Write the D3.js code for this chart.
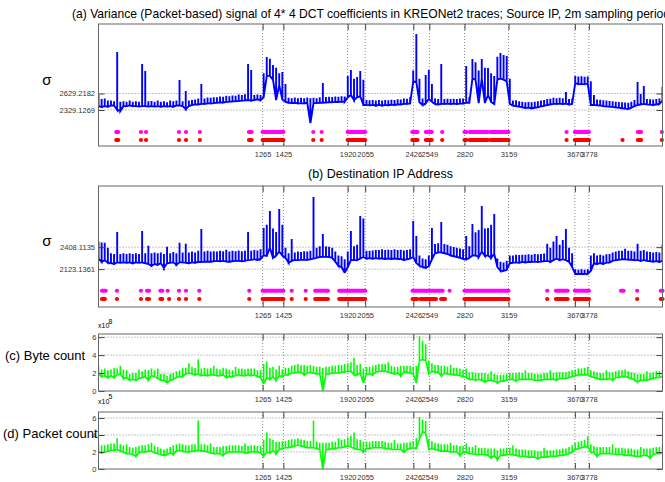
<!DOCTYPE html>
<html>
<head>
<meta charset="utf-8">
<script src="https://cdn.jsdelivr.net/npm/d3@7"></script>
<style>
  body { margin: 0; background: #fff; }
  svg { display: block; }
  text { font-family: "Liberation Sans", Arial, sans-serif; }
</style>
</head>
<body>
<svg id="chart" width="665" height="482"></svg>
<script>
// Each plotted bin covers 24 samples (2-minute sampling), sample index 1..4345.
// For every bin the lowest and highest value inside it are kept.
const sampleStep = 24;
const firstSample = 1;
const lastSample = 4345;

// Change-point indices marked on every panel
const eventTicks = [1265, 1425, 1920, 2055, 2426, 2549, 2820, 3159, 3670, 3778];

// (a) variance signal, source IP: per-bin max and min
const srcHigh = [
  2602, 2530, 2540, 2500, 2500, 2490, 3385, 2480, 2490, 2480,
  2500, 2480, 2490, 2480, 3166, 3039, 2490, 2495, 2480, 2500,
  2480, 2490, 2470, 2500, 2490, 2500, 2875, 2490, 2675, 2500,
  2510, 2520, 2540, 2802, 2540, 2555, 2550, 2560, 2560, 2575,
  2570, 2590, 2580, 2595, 2590, 2610, 2600, 2615, 3166, 3057,
  2600, 2610, 2600, 3000, 3294, 3260, 3150, 3100, 3000, 3020,
  2800, 2550, 2545, 2555, 2545, 2550, 2545, 2555, 2545, 2550,
  2545, 2560, 2820, 2565, 2570, 2565, 2575, 2570, 2580, 2575,
  2950, 3057, 2900, 2930, 3039, 2880, 2510, 2505, 2510, 2500,
  2510, 2500, 2510, 2505, 2515, 2510, 2525, 2520, 2540, 2535,
  2560, 3050, 3712, 2900, 2540, 2966, 3057, 2800, 2540, 2530,
  3166, 2530, 2535, 2530, 2535, 2530, 2540, 2540, 3130, 2560,
  3257, 3200, 3050, 3257, 3100, 3093, 3000, 2950, 3300, 3366,
  3330, 3312, 2900, 2500, 2505, 2490, 2480, 2470, 2475, 2470,
  2480, 2490, 2500, 2510, 2530, 2535, 2550, 2545, 2550, 2545,
  2657, 2530, 2540, 2950, 2940, 2945, 2935, 2940, 2850, 2602,
  2520, 2515, 2505, 2500, 2495, 2490, 2480, 2475, 2470, 2465,
  2460, 2480, 2510, 2839, 2620, 2766, 2530, 2525, 2520, 2530,
  2540, 2748
];
const srcLow = [
  2400, 2384, 2400, 2390, 2410, 2410, 2330, 2311, 2400, 2400,
  2410, 2400, 2400, 2395, 2400, 2400, 2395, 2400, 2395, 2400,
  2390, 2400, 2395, 2400, 2390, 2410, 2410, 2400, 2347, 2400,
  2420, 2430, 2430, 2440, 2440, 2450, 2450, 2455, 2460, 2465,
  2465, 2475, 2480, 2485, 2490, 2495, 2500, 2505, 2510, 2500,
  2510, 2520, 2510, 2560, 2950, 2950, 2880, 2511, 2780, 2520,
  2480, 2460, 2455, 2460, 2450, 2455, 2450, 2460, 2092, 2455,
  2455, 2460, 2460, 2465, 2470, 2470, 2475, 2475, 2480, 2480,
  2560, 2600, 2511, 2560, 2580, 2420, 2420, 2415, 2420, 2410,
  2420, 2410, 2420, 2415, 2425, 2420, 2430, 2430, 2440, 2440,
  2450, 2850, 2840, 2470, 2420, 2450, 2530, 2480, 2440, 2430,
  2440, 2440, 2445, 2440, 2445, 2440, 2445, 2445, 2460, 2460,
  2900, 2880, 2456, 2900, 2456, 2600, 2475, 2438, 2880, 2900,
  2880, 2850, 2440, 2410, 2400, 2390, 2380, 2365, 2370, 2360,
  2370, 2380, 2395, 2405, 2420, 2430, 2440, 2440, 2445, 2440,
  2445, 2430, 2440, 2820, 2800, 2805, 2800, 2810, 2420, 2420,
  2415, 2410, 2400, 2395, 2390, 2385, 2375, 2370, 2360, 2355,
  2350, 2370, 2400, 2420, 2430, 2440, 2430, 2425, 2420, 2430,
  2440, 2500
];
const srcThresholds = [2329.1269, 2629.2182];

// (b) variance signal, destination IP: per-bin max and min
const dstHigh = [
  2480, 2470, 2464, 2400, 2330, 2320, 2606, 2320, 2330, 2320,
  2330, 2320, 2330, 2320, 2619, 2330, 2425, 2330, 2340, 2330,
  2340, 2320, 2412, 2330, 2345, 2330, 2464, 2340, 2451, 2340,
  2350, 2340, 2360, 2645, 2350, 2360, 2350, 2355, 2350, 2360,
  2355, 2373, 2350, 2360, 2355, 2365, 2355, 2360, 2606, 2360,
  2370, 2365, 2380, 2658, 2700, 2878, 2650, 2606, 2904, 2700,
  2400, 2330, 2515, 2340, 2350, 2345, 2355, 2350, 2360, 3059,
  2400, 2420, 2580, 2415, 2412, 2400, 2350, 2300, 2290, 2250,
  2350, 2619, 2420, 2440, 2813, 2780, 2360, 2360, 2365, 2370,
  2370, 2380, 2370, 2375, 2370, 2380, 2370, 2375, 2365, 2370,
  2380, 2748, 2554, 2300, 2260, 2250, 2300, 2658, 2450, 2460,
  2735, 2450, 2440, 2420, 2410, 2400, 2390, 2380, 2554, 2420,
  2710, 2600, 2632, 2943, 2650, 2658, 2700, 2839, 2260, 2220,
  2210, 2230, 2300, 2300, 2310, 2305, 2310, 2310, 2315, 2310,
  2320, 2315, 2320, 2325, 2451, 2400, 2480, 2554, 2440, 2500,
  2645, 2400, 2330, 2120, 2115, 2120, 2115, 2120, 2300, 2330,
  2300, 2310, 2300, 2315, 2320, 2340, 2350, 2360, 2360, 2386,
  2360, 2360, 2350, 2451, 2360, 2370, 2350, 2345, 2340, 2345,
  2340, 2440
];
const dstLow = [
  2260, 2218, 2240, 2205, 2200, 2192, 2210, 2205, 2210, 2205,
  2210, 2200, 2210, 2205, 2210, 2200, 2190, 2166, 2190, 2179,
  2200, 2140, 2200, 2205, 2210, 2179, 2210, 2210, 2205, 2200,
  2210, 2205, 2215, 2215, 2218, 2220, 2218, 2225, 2230, 2225,
  2230, 2220, 2218, 2225, 2230, 2230, 2225, 2230, 2240, 2243,
  2250, 2243, 2255, 2300, 2295, 2400, 2269, 2300, 2350, 2300,
  2270, 2205, 2230, 2243, 2240, 2243, 2245, 2243, 2250, 2260,
  2269, 2280, 2282, 2282, 2280, 2269, 2220, 2166, 2150, 2075,
  2150, 2240, 2243, 2240, 2260, 2280, 2260, 2265, 2260, 2265,
  2260, 2260, 2256, 2260, 2256, 2260, 2256, 2255, 2243, 2250,
  2260, 2280, 2200, 2166, 2150, 2140, 2160, 2250, 2330, 2340,
  2340, 2330, 2320, 2300, 2290, 2280, 2270, 2256, 2250, 2269,
  2300, 2300, 2280, 2350, 2295, 2300, 2269, 2320, 2150, 2101,
  2100, 2114, 2200, 2205, 2210, 2205, 2215, 2210, 2215, 2215,
  2220, 2215, 2220, 2225, 2230, 2218, 2240, 2260, 2240, 2250,
  2240, 2218, 2150, 2060, 2060, 2062, 2060, 2062, 2100, 2200,
  2192, 2200, 2192, 2205, 2210, 2230, 2240, 2245, 2250, 2250,
  2245, 2245, 2240, 2240, 2230, 2240, 2230, 2225, 2220, 2225,
  2218, 2230
];
const dstThresholds = [2123.1361, 2408.1135];

// (c) byte count per bin, in units of 10^8
const byteHigh = [
  2.8, 2.4, 2.5, 2.3, 2.4, 2.6, 2.5, 2.8, 2.4, 2.3,
  1.9, 2.0, 2.0, 2.4, 2.2, 2.4, 2.3, 2.5, 2.3, 2.5,
  1.9, 1.9, 1.7, 1.9, 2.0, 2.2, 2.3, 2.6, 2.6, 3.1,
  2.7, 2.6, 3.5, 2.5, 2.6, 2.5, 2.6, 2.8, 2.5, 2.4,
  2.6, 2.5, 2.4, 2.3, 2.7, 2.5, 2.5, 2.4, 2.5, 2.5,
  2.5, 2.3, 2.3, 3.0, 3.3, 2.6, 2.7, 2.4, 2.8, 2.4,
  2.6, 2.6, 2.8, 2.9, 3.0, 2.9, 2.9, 2.8, 2.9, 2.8,
  2.7, 2.7, 2.6, 2.7, 2.7, 2.8, 2.8, 2.9, 2.9, 3.0,
  3.1, 3.2, 3.7, 2.9, 3.0, 2.5, 2.7, 2.7, 2.8, 2.9,
  3.0, 3.0, 3.0, 3.2, 2.8, 2.7, 2.7, 2.8, 2.8, 2.8,
  2.8, 2.7, 2.8, 6.1, 5.6, 5.2, 3.4, 3.1, 2.9, 2.9,
  2.8, 2.8, 2.7, 2.9, 2.6, 2.6, 2.5, 2.4, 2.5, 2.1,
  2.1, 2.0, 2.0, 2.0, 2.0, 1.9, 2.2, 1.9, 1.8, 1.8,
  1.8, 1.9, 2.0, 2.0, 2.0, 2.1, 2.0, 2.3, 2.0, 2.0,
  1.9, 1.9, 1.9, 2.0, 2.0, 2.3, 2.0, 2.1, 2.1, 2.1,
  2.1, 2.2, 2.3, 2.4, 2.5, 2.5, 2.6, 2.7, 2.3, 2.2,
  2.1, 2.0, 2.0, 2.3, 2.1, 2.1, 2.2, 2.3, 2.3, 2.4,
  2.2, 2.1, 2.0, 1.9, 1.9, 1.9, 2.2, 2.0, 2.1, 2.2,
  2.2, 2.3
];
const byteLow = [
  1.9, 1.6, 1.7, 1.5, 1.7, 1.5, 1.8, 1.9, 1.4, 1.5,
  1.2, 1.3, 1.2, 1.4, 1.5, 1.6, 1.2, 1.7, 1.6, 1.4,
  1.2, 1.2, 0.9, 1.2, 1.3, 1.5, 1.6, 1.6, 1.9, 2.0,
  1.9, 1.8, 1.9, 1.7, 1.8, 1.7, 1.8, 1.8, 1.7, 1.7,
  1.8, 1.5, 1.6, 1.6, 1.7, 1.8, 1.7, 1.7, 1.8, 1.7,
  1.8, 1.6, 1.5, 0.8, 1.5, 1.3, 1.6, 1.2, 1.7, 1.6,
  1.8, 1.8, 2.0, 2.0, 2.1, 2.1, 1.8, 2.0, 2.1, 2.0,
  1.9, 1.9, 0.0, 1.9, 1.9, 2.0, 2.0, 2.0, 2.1, 2.1,
  2.2, 2.2, 1.8, 1.8, 2.0, 0.9, 1.9, 1.9, 1.8, 2.1,
  2.2, 2.2, 2.2, 2.1, 2.0, 1.9, 2.0, 1.7, 2.1, 2.1,
  2.0, 1.9, 0.9, 3.4, 3.5, 3.4, 1.9, 2.2, 2.1, 2.1,
  1.7, 2.0, 1.9, 1.9, 1.8, 1.8, 1.7, 1.6, 1.5, 1.3,
  1.3, 1.2, 1.3, 1.2, 1.0, 1.2, 1.2, 1.1, 0.9, 1.1,
  1.1, 1.2, 1.3, 1.3, 1.1, 1.3, 1.3, 1.3, 1.3, 1.3,
  1.2, 1.2, 1.2, 1.3, 1.3, 1.3, 1.3, 1.2, 1.4, 1.4,
  1.4, 1.5, 1.6, 1.7, 1.8, 1.8, 1.8, 1.8, 1.6, 1.5,
  1.4, 1.3, 1.3, 1.3, 1.4, 1.2, 1.5, 1.5, 1.6, 1.6,
  1.5, 1.4, 1.2, 1.0, 1.2, 1.2, 1.2, 1.3, 1.4, 1.5,
  1.5, 1.6
];
const byteExponent = "8";

// (d) packet count per bin, in units of 10^5
const packetHigh = [
  2.9, 2.8, 2.8, 2.9, 3.0, 3.0, 3.6, 2.9, 2.8, 2.9,
  2.6, 2.5, 2.6, 2.7, 2.8, 2.8, 2.9, 3.1, 2.7, 2.6,
  2.4, 2.3, 2.4, 2.6, 2.8, 2.9, 3.0, 2.9, 2.8, 2.8,
  2.9, 2.9, 5.7, 2.9, 2.9, 2.8, 3.0, 2.6, 2.6, 2.6,
  2.7, 2.7, 2.8, 2.8, 2.8, 2.8, 2.7, 3.0, 2.7, 2.8,
  2.8, 2.7, 2.7, 3.4, 4.3, 3.6, 3.4, 3.2, 3.2, 3.3,
  3.3, 3.4, 3.5, 3.5, 3.6, 3.5, 3.4, 3.3, 3.3, 5.7,
  3.2, 3.1, 3.1, 3.1, 3.1, 3.2, 3.2, 3.6, 3.4, 3.5,
  3.7, 3.9, 4.3, 3.5, 3.4, 3.2, 3.2, 3.2, 3.3, 3.3,
  3.3, 3.3, 3.2, 3.1, 3.1, 3.4, 3.0, 3.0, 3.1, 3.1,
  3.2, 3.3, 3.6, 6.1, 5.8, 5.6, 3.5, 3.3, 3.1, 3.0,
  2.9, 2.9, 2.9, 3.1, 2.8, 2.8, 2.7, 2.7, 3.0, 2.6,
  2.6, 2.8, 2.5, 2.5, 2.5, 2.4, 2.4, 2.4, 2.2, 2.4,
  2.4, 2.5, 2.5, 2.8, 2.4, 2.3, 2.3, 2.3, 2.2, 2.2,
  2.2, 2.1, 2.1, 2.5, 2.2, 2.2, 2.2, 2.3, 2.3, 2.4,
  2.4, 2.6, 2.8, 3.1, 3.2, 3.3, 3.4, 3.85, 2.9, 2.7,
  2.6, 2.6, 2.6, 2.6, 2.6, 2.9, 2.5, 2.5, 2.5, 2.4,
  2.4, 2.4, 2.3, 2.3, 2.6, 2.4, 2.4, 2.4, 2.5, 2.6,
  2.6, 2.7
];
const packetLow = [
  2.0, 1.9, 2.0, 2.1, 2.2, 2.2, 2.3, 2.1, 2.0, 1.8,
  1.8, 1.7, 1.5, 1.9, 2.0, 2.0, 2.1, 2.1, 1.9, 1.8,
  1.7, 1.6, 1.7, 1.9, 1.7, 2.1, 2.2, 2.1, 2.0, 2.0,
  2.1, 2.1, 2.2, 2.1, 2.1, 2.0, 1.9, 1.8, 1.8, 1.8,
  1.6, 1.9, 2.0, 2.0, 2.0, 2.0, 2.0, 1.9, 1.9, 2.0,
  2.0, 2.0, 1.9, 1.5, 2.0, 1.9, 2.2, 1.8, 2.3, 2.4,
  2.5, 2.5, 2.6, 2.7, 2.8, 2.7, 2.6, 2.5, 2.5, 2.5,
  2.4, 2.3, 0.0, 2.3, 2.3, 2.4, 2.4, 2.5, 2.5, 2.6,
  2.7, 2.6, 2.4, 2.3, 2.3, 2.0, 2.4, 2.4, 2.5, 2.5,
  2.5, 2.5, 2.4, 2.4, 2.3, 2.3, 2.3, 2.3, 2.0, 2.3,
  2.4, 2.5, 2.4, 3.5, 4.4, 4.2, 2.3, 2.4, 2.3, 2.2,
  2.1, 2.1, 2.1, 2.0, 2.0, 2.0, 1.6, 1.9, 2.0, 1.8,
  1.8, 1.7, 1.7, 1.7, 1.7, 1.6, 1.3, 1.6, 1.1, 1.6,
  1.6, 1.7, 1.7, 1.7, 1.6, 1.5, 1.5, 1.5, 1.4, 1.4,
  1.4, 1.2, 1.4, 1.4, 1.4, 1.5, 1.5, 1.5, 1.6, 1.6,
  1.7, 1.8, 2.0, 2.3, 2.4, 2.5, 2.6, 2.6, 2.0, 1.9,
  1.5, 1.8, 1.8, 1.8, 1.8, 1.8, 1.7, 1.7, 1.7, 1.6,
  1.6, 1.6, 1.5, 1.5, 1.5, 1.6, 1.6, 1.3, 1.7, 1.8,
  1.8, 1.9
];
const packetExponent = "5";
const countTicks = [0, 2, 4, 6];

// Flagged sample ranges [start, end] (single samples have start == end)
const srcFlagsMagenta = [[138,153],[328,328],[367,367],[621,621],[675,675],[782,782],[1160,1180],[1265,1425],[1655,1655],[1720,1720],[1920,2055],[2418,2458],[2522,2568],[2648,2648],[2820,2835],[2860,3000],[3020,3159],[3606,3606],[3670,3778],[4155,4180],[4340,4340]];
const srcFlagsRed = [[138,153],[328,328],[367,367],[621,621],[675,675],[782,782],[1160,1180],[1265,1425],[1655,1655],[1720,1720],[1920,2055],[2418,2458],[2522,2568],[2648,2648],[2820,2835],[2860,3000],[3020,3159],[3606,3606],[3670,3778],[4037,4037],[4155,4180],[4340,4340]];
const dstFlagsMagenta = [[28,57],[143,143],[328,328],[375,390],[478,492],[534,534],[621,621],[675,675],[777,777],[1162,1162],[1265,1425],[1489,1489],[1597,1597],[1670,1768],[1855,2055],[2420,2651],[2705,2705],[2820,3159],[3457,3457],[3524,3614],[3670,3778],[4025,4045],[4150,4150],[4332,4345]];
const dstFlagsRed = [[28,50],[143,143],[328,328],[375,390],[478,492],[545,545],[621,621],[675,675],[777,777],[1162,1162],[1265,1425],[1489,1489],[1597,1597],[1670,1768],[1855,2055],[2420,2455],[2480,2600],[2640,2670],[2820,3159],[3457,3457],[3524,3614],[3670,3778],[4150,4150],[4332,4345]];

const svg = d3.select("#chart");
const FONT = '"Liberation Sans", Arial, sans-serif';

const x = d3.scaleLinear().domain([firstSample, lastSample]).range([98.5, 662.5]);
const binStart = i => firstSample + i * sampleStep;

const panels = [
  { id: "a", top: 24, bottom: 146, domain: [1674, 3894], hi: srcHigh, lo: srcLow,
    yTicks: srcThresholds, fmt: d3.format(".4f"), color: "#0000ff", lw: 1.9,
    flags: [{ rows: srcFlagsMagenta, level: 1929, color: "#ff00ff" },
            { rows: srcFlagsRed, level: 1783, color: "#ff0000" }],
    labelPad: 3.5 },
  { id: "b", top: 186, bottom: 307, domain: [1631, 3202], hi: dstHigh, lo: dstLow,
    yTicks: dstThresholds, fmt: d3.format(".4f"), color: "#0000ff", lw: 1.9,
    flags: [{ rows: dstFlagsMagenta, level: 1842, color: "#ff00ff" },
            { rows: dstFlagsRed, level: 1735, color: "#ff0000" }],
    labelPad: 3.5 },
  { id: "c", top: 334, bottom: 391, domain: [0, 6.35], hi: byteHigh, lo: byteLow,
    yTicks: countTicks, fmt: d3.format("d"), color: "#00ff00", lw: 1.6,
    flags: [], labelPad: 2 },
  { id: "d", top: 412, bottom: 469, domain: [0, 6.7], hi: packetHigh, lo: packetLow,
    yTicks: countTicks, fmt: d3.format("d"), color: "#00ff00", lw: 1.6,
    flags: [], labelPad: 2 }
];

const tickLen = 6;

panels.forEach(p => {
  const y = d3.scaleLinear().domain(p.domain).range([p.bottom, p.top]);
  const g = svg.append("g");

  g.append("clipPath").attr("id", "clip-" + p.id)
    .append("rect").attr("x", x.range()[0]).attr("y", p.top)
    .attr("width", x.range()[1] - x.range()[0]).attr("height", p.bottom - p.top);

  // dotted grid
  g.append("g").selectAll("line").data(eventTicks).join("line")
    .attr("x1", d => x(d)).attr("x2", d => x(d))
    .attr("y1", p.top).attr("y2", p.bottom)
    .attr("stroke", "#8c8c8c").attr("stroke-width", 1)
    .attr("stroke-dasharray", "1,2");
  g.append("g").selectAll("line").data(p.yTicks.filter(v => v > p.domain[0])).join("line")
    .attr("x1", x.range()[0]).attr("x2", x.range()[1])
    .attr("y1", d => y(d)).attr("y2", d => y(d))
    .attr("stroke", "#8c8c8c").attr("stroke-width", 1)
    .attr("stroke-dasharray", "1,2");

  // signal: every bin is a vertical stroke from its min up to its max and back,
  // consecutive bins joined along their minima
  const pts = [];
  p.lo.forEach((lo, i) => {
    const xi = x(binStart(i));
    pts.push([xi, y(lo)], [xi, y(p.hi[i])], [xi, y(lo)]);
  });
  g.append("path")
    .attr("clip-path", `url(#clip-${p.id})`)
    .attr("d", d3.line()(pts))
    .attr("fill", "none").attr("stroke", p.color)
    .attr("stroke-width", p.lw).attr("stroke-linejoin", "miter");

  // flagged samples
  p.flags.forEach(f => {
    g.append("g").selectAll("line").data(f.rows).join("line")
      .attr("x1", d => x(d[0])).attr("x2", d => x(d[1]))
      .attr("y1", y(f.level)).attr("y2", y(f.level))
      .attr("stroke", f.color).attr("stroke-width", 4.2)
      .attr("stroke-linecap", "round");
  });

  // axes with inward ticks
  const styleAxis = sel => {
    sel.attr("font-size", 7.5).attr("font-family", FONT);
    sel.select(".domain").remove();
    sel.selectAll(".tick line").attr("stroke", "#444");
    sel.selectAll(".tick text").attr("fill", "#333");
  };
  g.append("g").attr("transform", `translate(0,${p.bottom})`)
    .call(d3.axisBottom(x).tickValues(eventTicks).tickFormat(d3.format("d"))
      .tickSizeInner(-tickLen).tickSizeOuter(0).tickPadding(5.5))
    .call(styleAxis);
  g.append("g").attr("transform", `translate(0,${p.top})`)
    .call(d3.axisTop(x).tickValues(eventTicks).tickFormat("")
      .tickSizeInner(-tickLen).tickSizeOuter(0))
    .call(styleAxis);
  g.append("g").attr("transform", `translate(${x.range()[0]},0)`)
    .call(d3.axisLeft(y).tickValues(p.yTicks).tickFormat(p.fmt)
      .tickSizeInner(-tickLen).tickSizeOuter(0).tickPadding(p.labelPad))
    .call(styleAxis);
  g.append("g").attr("transform", `translate(${x.range()[1]},0)`)
    .call(d3.axisRight(y).tickValues(p.yTicks).tickFormat("")
      .tickSizeInner(-tickLen).tickSizeOuter(0))
    .call(styleAxis);

  // frame
  g.append("rect").attr("x", x.range()[0]).attr("y", p.top)
    .attr("width", x.range()[1] - x.range()[0]).attr("height", p.bottom - p.top)
    .attr("fill", "none").attr("stroke", "#666").attr("stroke-width", 1);
});

// titles and axis labels
const txt = (s, px, py, size, anchor) => svg.append("text")
  .attr("x", px).attr("y", py).attr("font-size", size)
  .attr("text-anchor", anchor || "start").attr("fill", "#000")
  .attr("font-family", FONT).text(s);

txt("(a) Variance (Packet-based) signal of 4* 4 DCT coefficients in KREONet2 traces; Source IP, 2m sampling period", 72, 18, 12.1);
txt("(b) Destination IP Address", 380.5, 178, 12.5, "middle");
txt("σ", 47, 85, 15, "middle");
txt("σ", 47, 246, 15, "middle");
txt("(c) Byte count", 5, 360, 13);
txt("(d) Packet count", 3, 438, 13);

// scale exponents for the count panels
txt("x10", 98, 328, 7);
txt(byteExponent, 108.5, 323.5, 7);
txt("x10", 98, 404, 7);
txt(packetExponent, 108.5, 398.5, 7);
</script>
</body>
</html>
